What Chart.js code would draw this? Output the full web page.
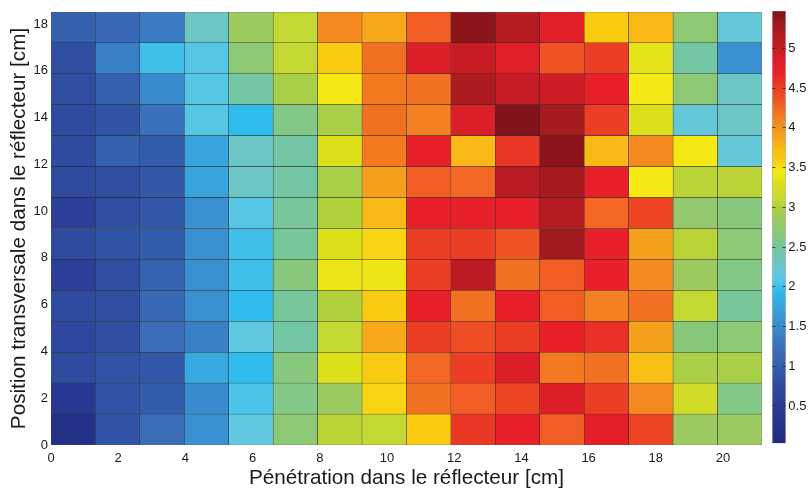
<!DOCTYPE html>
<html><head><meta charset="utf-8">
<script src="https://cdn.jsdelivr.net/npm/chart.js@4"></script>
<style>
html,body{margin:0;padding:0;background:#fff;}
#wrap{position:relative;width:808px;height:491px;overflow:hidden;}
#c1{position:absolute;left:0;top:0;}
#c2{position:absolute;left:760px;top:0;}
</style></head><body>
<div id="wrap"><canvas id="c1" width="808" height="491"></canvas><canvas id="c2" width="48" height="491"></canvas></div>
<script>
// grid spacing of the measurement cells [cm]
const CELL = 1.3225;
const NCOLS = 16, NROWS = 14;
const xTicks = [0, 2, 4, 6, 8, 10, 12, 14, 16, 18, 20];
const yTicks = [0, 2, 4, 6, 8, 10, 12, 14, 16, 18];
const cbTicks = [0.5, 1, 1.5, 2, 2.5, 3, 3.5, 4, 4.5, 5];
const cbRange = [0.03, 5.47];
const xTitle = 'Pénétration dans le réflecteur [cm]';
const yTitle = 'Position transversale dans le réflecteur [cm]';

// rows from bottom (y = 0) to top, 16 columns each (x = 0 .. 21 cm)
const row01 = [0.15, 0.85, 1.2, 1.55, 2.15, 2.7, 3.05, 3.1, 3.6, 4.55, 4.7, 4.3, 4.75, 4.45, 2.85, 2.85];
const row02 = [0.4, 0.85, 0.95, 1.5, 2.05, 2.6, 2.85, 3.55, 4.2, 4.3, 4.45, 4.85, 4.5, 4.05, 3.2, 2.6];
const row03 = [0.75, 0.85, 0.9, 1.8, 1.95, 2.65, 3.3, 3.6, 4.25, 4.5, 4.85, 4.15, 4.2, 3.7, 2.95, 2.95];
const row04 = [0.7, 0.8, 1.2, 1.4, 2.15, 2.45, 3.1, 3.85, 4.5, 4.4, 4.5, 4.7, 4.6, 3.9, 2.65, 2.7];
const row05 = [0.75, 0.8, 1.15, 1.55, 1.95, 2.5, 3.0, 3.6, 4.7, 4.2, 4.7, 4.3, 4.1, 4.2, 3.1, 2.5];
const row06 = [0.55, 0.8, 1.05, 1.55, 2.0, 2.65, 3.4, 3.4, 4.5, 5.1, 4.2, 4.3, 4.7, 4.05, 2.85, 2.6];
const row07 = [0.75, 0.85, 0.95, 1.55, 2.0, 2.5, 3.3, 3.55, 4.5, 4.5, 4.35, 5.3, 4.7, 3.9, 3.05, 2.7];
const row08 = [0.55, 0.8, 0.9, 1.55, 2.1, 2.5, 3.0, 3.75, 4.7, 4.7, 4.7, 5.15, 4.25, 4.45, 2.75, 2.65];
const row09 = [0.75, 0.8, 0.9, 1.75, 2.3, 2.45, 2.95, 3.9, 4.3, 4.25, 5.1, 5.25, 4.7, 3.45, 3.05, 3.05];
const row10 = [0.75, 1.0, 0.95, 1.75, 2.3, 2.45, 3.3, 4.15, 4.7, 3.75, 4.55, 5.4, 3.75, 4.05, 3.45, 2.2];
const row11 = [0.75, 0.85, 1.25, 2.1, 1.95, 2.6, 2.95, 4.2, 4.1, 4.85, 5.45, 5.25, 4.5, 3.3, 2.2, 2.3];
const row12 = [0.8, 1.0, 1.5, 2.1, 2.45, 2.95, 3.45, 4.15, 4.2, 5.2, 5.0, 4.95, 4.7, 3.45, 2.7, 2.3];
const row13 = [0.8, 1.4, 2.0, 2.1, 2.7, 3.1, 3.6, 4.2, 4.85, 5.0, 4.8, 4.35, 4.5, 3.35, 2.45, 1.55];
const row14 = [1.0, 1.15, 1.35, 2.3, 2.85, 3.1, 4.05, 3.85, 4.3, 5.4, 5.15, 4.8, 3.6, 3.75, 2.7, 2.2];
const rows = [row01, row02, row03, row04, row05, row06, row07, row08, row09, row10, row11, row12, row13, row14];

// colour map (printed "jet"), value -> colour
const jetStops = [
  [0.0, '#222a80'], [0.5, '#2a3c96'], [0.8, '#2f4ea2'], [1.0, '#3460ae'], [1.2, '#3a6cb8'],
  [1.4, '#3a80c6'], [1.55, '#3a90d0'], [1.75, '#38a4dc'], [1.95, '#30bcec'], [2.05, '#4cc4ea'],
  [2.15, '#60c8e0'], [2.3, '#6cc6c6'], [2.45, '#72c6a4'], [2.65, '#88c87c'], [2.85, '#9cca60'],
  [3.0, '#b0d03c'], [3.1, '#c4d834'], [3.3, '#dce01a'], [3.45, '#f5e814'], [3.6, '#f9cc12'],
  [3.75, '#f8b816'], [3.9, '#f5a01c'], [4.05, '#f48a20'], [4.2, '#f27022'], [4.35, '#f05424'],
  [4.5, '#ec3e24'], [4.7, '#e8202a'], [4.85, '#dc1e28'], [5.0, '#c81c24'], [5.15, '#b41c22'],
  [5.3, '#a01a1e'], [5.47, '#7e1219']
];
function hexRgb(h){return [parseInt(h.slice(1,3),16),parseInt(h.slice(3,5),16),parseInt(h.slice(5,7),16)];}
function colorFor(v){
  if (v <= jetStops[0][0]) return jetStops[0][1];
  for (let k = 1; k < jetStops.length; k++) {
    if (v <= jetStops[k][0]) {
      const [v0,c0] = jetStops[k-1], [v1,c1] = jetStops[k];
      const t = (v - v0) / (v1 - v0), a = hexRgb(c0), b = hexRgb(c1);
      return 'rgb(' + a.map((q,i)=>Math.round(q + (b[i]-q)*t)).join(',') + ')';
    }
  }
  return jetStops[jetStops.length-1][1];
}

const FONT = "'Liberation Sans', Arial, Helvetica, sans-serif";
const TXT = '#1a1a1a';
Chart.defaults.font.family = FONT;
Chart.defaults.color = TXT;

new Chart(document.getElementById('c1'), {
  type: 'bar',
  data: {
    datasets: rows.map((vals, j) => ({
      data: vals.map((v, i) => ({ x: (i + 0.5) * CELL, y: [j * CELL, (j + 1) * CELL] })),
      backgroundColor: vals.map(colorFor),
      borderColor: 'rgba(25,25,25,0.85)',
      borderWidth: 0.5,
      borderSkipped: false,
      grouped: false,
      barPercentage: 1,
      categoryPercentage: 1
    }))
  },
  options: {
    responsive: false,
    animation: false,
    devicePixelRatio: 1,
    layout: { padding: { left: 0, right: 46, top: 12, bottom: 0 } },
    plugins: { legend: { display: false }, tooltip: { enabled: false } },
    scales: {
      x: {
        type: 'linear', min: 0, max: NCOLS * CELL, offset: false,
        grid: { display: false, drawTicks: false }, border: { display: false },
        ticks: { font: { size: 13 }, color: TXT, padding: 6, autoSkip: false, maxRotation: 0, callback: v => String(v) },
        afterBuildTicks: s => { s.ticks = xTicks.map(v => ({ value: v })); },
        afterFit: s => { s.height = 46; },
        title: { display: true, text: xTitle, font: { size: 20.7 }, color: TXT, padding: { top: 0, bottom: 0 } }
      },
      y: {
        type: 'linear', min: 0, max: NROWS * CELL,
        grid: { display: false, drawTicks: false }, border: { display: false },
        ticks: { font: { size: 13 }, color: TXT, padding: 3, autoSkip: false, callback: v => String(v) },
        afterBuildTicks: s => { s.ticks = yTicks.map(v => ({ value: v })); },
        afterFit: s => { s.width = 51; },
        title: { display: true, text: yTitle, font: { size: 20.7 }, color: TXT, padding: { top: 7.3, bottom: 0 } }
      }
    }
  }
});

new Chart(document.getElementById('c2'), {
  type: 'bar',
  data: {
    labels: ['colorbar'],
    datasets: [{
      data: [cbRange],
      backgroundColor: (ctx) => {
        const ch = ctx.chart, ys = ch.scales.y;
        if (!ch.chartArea || !ys) return '#888';
        const y0 = ys.getPixelForValue(cbRange[0]), y1 = ys.getPixelForValue(cbRange[1]);
        const g = ch.ctx.createLinearGradient(0, y0, 0, y1);
        jetStops.forEach(([v, c]) => {
          const f = Math.min(1, Math.max(0, (v - cbRange[0]) / (cbRange[1] - cbRange[0])));
          g.addColorStop(f, c);
        });
        return g;
      },
      borderColor: 'rgba(80,80,80,0.6)',
      borderWidth: 0.5,
      borderSkipped: false,
      barPercentage: 1,
      categoryPercentage: 1
    }]
  },
  options: {
    responsive: false,
    animation: false,
    devicePixelRatio: 1,
    layout: { padding: { left: 12.3, right: 0, top: 11, bottom: 47.7 } },
    plugins: { legend: { display: false }, tooltip: { enabled: false } },
    scales: {
      x: { display: false, offset: true },
      y: {
        position: 'right', min: cbRange[0], max: cbRange[1],
        grid: { drawOnChartArea: true, drawTicks: false, color: 'rgba(40,40,40,0.8)', lineWidth: 1, z: 1 },
        border: { display: false, dash: [3, 7.4] },
        ticks: { font: { size: 13 }, color: TXT, padding: 2.6, autoSkip: false, callback: v => String(v) },
        afterBuildTicks: s => { s.ticks = cbTicks.map(v => ({ value: v })); },
        afterFit: s => { s.width = 22.3; }
      }
    }
  }
});
</script>
</body></html>
